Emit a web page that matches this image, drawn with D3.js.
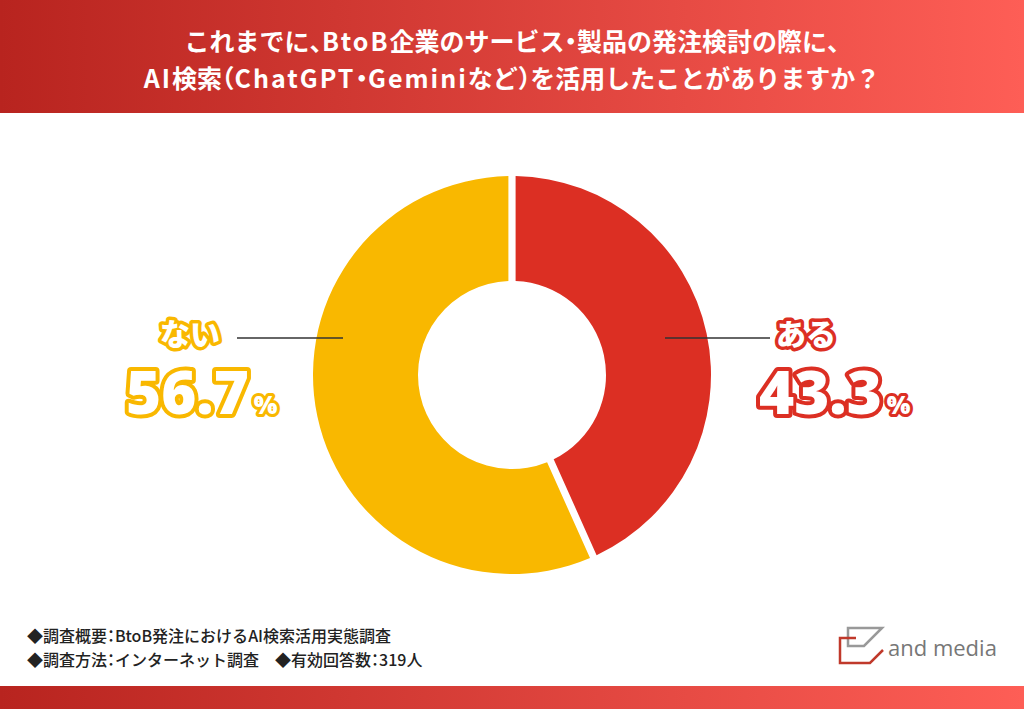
<!DOCTYPE html>
<html>
<head>
<meta charset="utf-8">
<script src="https://cdn.jsdelivr.net/npm/d3@7"></script>
<style>
  body { margin: 0; background: #fff; }
  svg { display: block; font-family: "Noto Sans CJK JP", "Noto Sans", sans-serif; }
  .half { font-feature-settings: "halt" 1; }
</style>
</head>
<body>
<div id="chart"></div>
<script>
// data
var titleLines = ["これまでに、BtoB企業のサービス・製品の発注検討の際に、",
                  "AI検索（ChatGPT・Geminiなど）を活用したことがありますか？"];
var categories = ["ある", "ない"];
var values = [43.3, 56.7];
var sliceColors = ["#dc2f23", "#f9b800"];
var notes = ["◆調査概要：BtoB発注におけるAI検索活用実態調査",
             "◆調査方法：インターネット調査　◆有効回答数：319人"];

var width = 1024, height = 709;
var cx = 512, cy = 375;
var outerR = 199, innerR = 94;

var svg = d3.select("#chart").append("svg")
    .attr("width", width)
    .attr("height", height);

// split a string into runs: latin, half-width punctuation, the rest
function runs(str) {
    var out = [], cur = null;
    for (var ch of str) {
        var t = /[\x20-\x7e]/.test(ch) ? "lat" : (/[、（）・：]/.test(ch) ? "half" : "cjk");
        if (cur && cur.t == t) cur.s += ch;
        else { cur = { t: t, s: ch }; out.push(cur); }
    }
    return out;
}
function fillRuns(sel, latSpacing) {
    sel.each(function (d) {
        var t = d3.select(this);
        runs(d).forEach(function (r) {
            var sp = t.append("tspan").text(r.s);
            if (r.t == "half") sp.attr("class", "half");
            if (r.t == "lat") sp.attr("letter-spacing", latSpacing);
        });
    });
}

// gradient for the header and bottom band
var defs = svg.append("defs");
var grad = defs.append("linearGradient").attr("id", "band")
    .attr("x1", "0%").attr("x2", "100%").attr("y1", "0%").attr("y2", "0%");
grad.append("stop").attr("offset", "0%").attr("stop-color", "#b8241f");
grad.append("stop").attr("offset", "100%").attr("stop-color", "#fe5e56");

svg.append("rect").attr("width", width).attr("height", 113).attr("fill", "url(#band)");
svg.append("rect").attr("y", 686).attr("width", width).attr("height", 23).attr("fill", "url(#band)");

svg.append("g").selectAll("text")
    .data(titleLines)
    .enter().append("text")
    .attr("x", width / 2)
    .attr("y", function (d, i) { return 51 + i * 37; })
    .attr("text-anchor", "middle")
    .attr("fill", "#fff")
    .style("font-size", "25px")
    .style("font-weight", "700")
    .call(fillRuns, 2);

// donut
var pie = d3.pie().sort(null).value(function (d) { return d; });
var arc = d3.arc().innerRadius(innerR).outerRadius(outerR)
    .padAngle(0.036).padRadius(200);

var g = svg.append("g").attr("transform", "translate(" + cx + "," + cy + ")");
g.selectAll("path")
    .data(pie(values))
    .enter().append("path")
    .attr("d", arc)
    .attr("fill", function (d, i) { return sliceColors[i]; });

// leader lines
var lines = [
    { x1: 665, x2: 770 },
    { x1: 237, x2: 343 }
];
svg.selectAll(".leader")
    .data(lines)
    .enter().append("line")
    .attr("class", "leader")
    .attr("x1", function (d) { return d.x1; })
    .attr("x2", function (d) { return d.x2; })
    .attr("y1", 338).attr("y2", 338)
    .attr("stroke", "#333")
    .attr("stroke-width", 1.5);

// labels: white fill with coloured outline
var labelPos = [{ x: 806, nx: 759 }, { x: 190, nx: 126 }];
categories.forEach(function (c, i) {
    var col = sliceColors[i];
    svg.append("text")
        .attr("x", labelPos[i].x)
        .attr("y", 345)
        .attr("text-anchor", "middle")
        .attr("fill", "#fff")
        .attr("stroke", col)
        .attr("stroke-width", 7)
        .attr("stroke-linejoin", "round")
        .style("paint-order", "stroke")
        .style("font-size", "30px")
        .style("font-weight", "900")
        .text(c);

    var num = svg.append("text")
        .attr("x", labelPos[i].nx)
        .attr("y", 414)
        .attr("fill", "#fff")
        .attr("stroke", col)
        .attr("stroke-width", 8)
        .attr("stroke-linejoin", "round")
        .style("paint-order", "stroke")
        .style("font-weight", "900")
        .style("font-family", "'Noto Sans', 'Noto Sans CJK JP', sans-serif");
    num.append("tspan")
        .style("font-size", "60px")
        .text(values[i].toFixed(1));
    num.append("tspan")
        .attr("dx", 5)
        .style("font-size", "25px")
        .attr("stroke-width", 6)
        .text("%");
});

// notes
svg.append("g").selectAll("text")
    .data(notes)
    .enter().append("text")
    .attr("x", 27)
    .attr("y", function (d, i) { return 642 + i * 24; })
    .attr("fill", "#222")
    .style("font-size", "16px")
    .style("font-weight", "500")
    .call(fillRuns, 0);

// logo
var logo = svg.append("g").attr("transform", "translate(838,628)");
logo.append("path")
    .attr("d", "M10,0 H44 L26,18 H10 Z")
    .attr("fill", "none").attr("stroke", "#999").attr("stroke-width", 2.5);
logo.append("path")
    .attr("d", "M18,10 H2 V35 H32 L45,22")
    .attr("fill", "none").attr("stroke", "#c0392b").attr("stroke-width", 2.5);
svg.append("text")
    .attr("x", 888).attr("y", 656)
    .attr("fill", "#777")
    .style("font-family", "'Open Sans', 'Noto Sans', sans-serif")
    .style("font-size", "22px")
    .style("font-weight", "500")
    .text("and media");
</script>
</body>
</html>
